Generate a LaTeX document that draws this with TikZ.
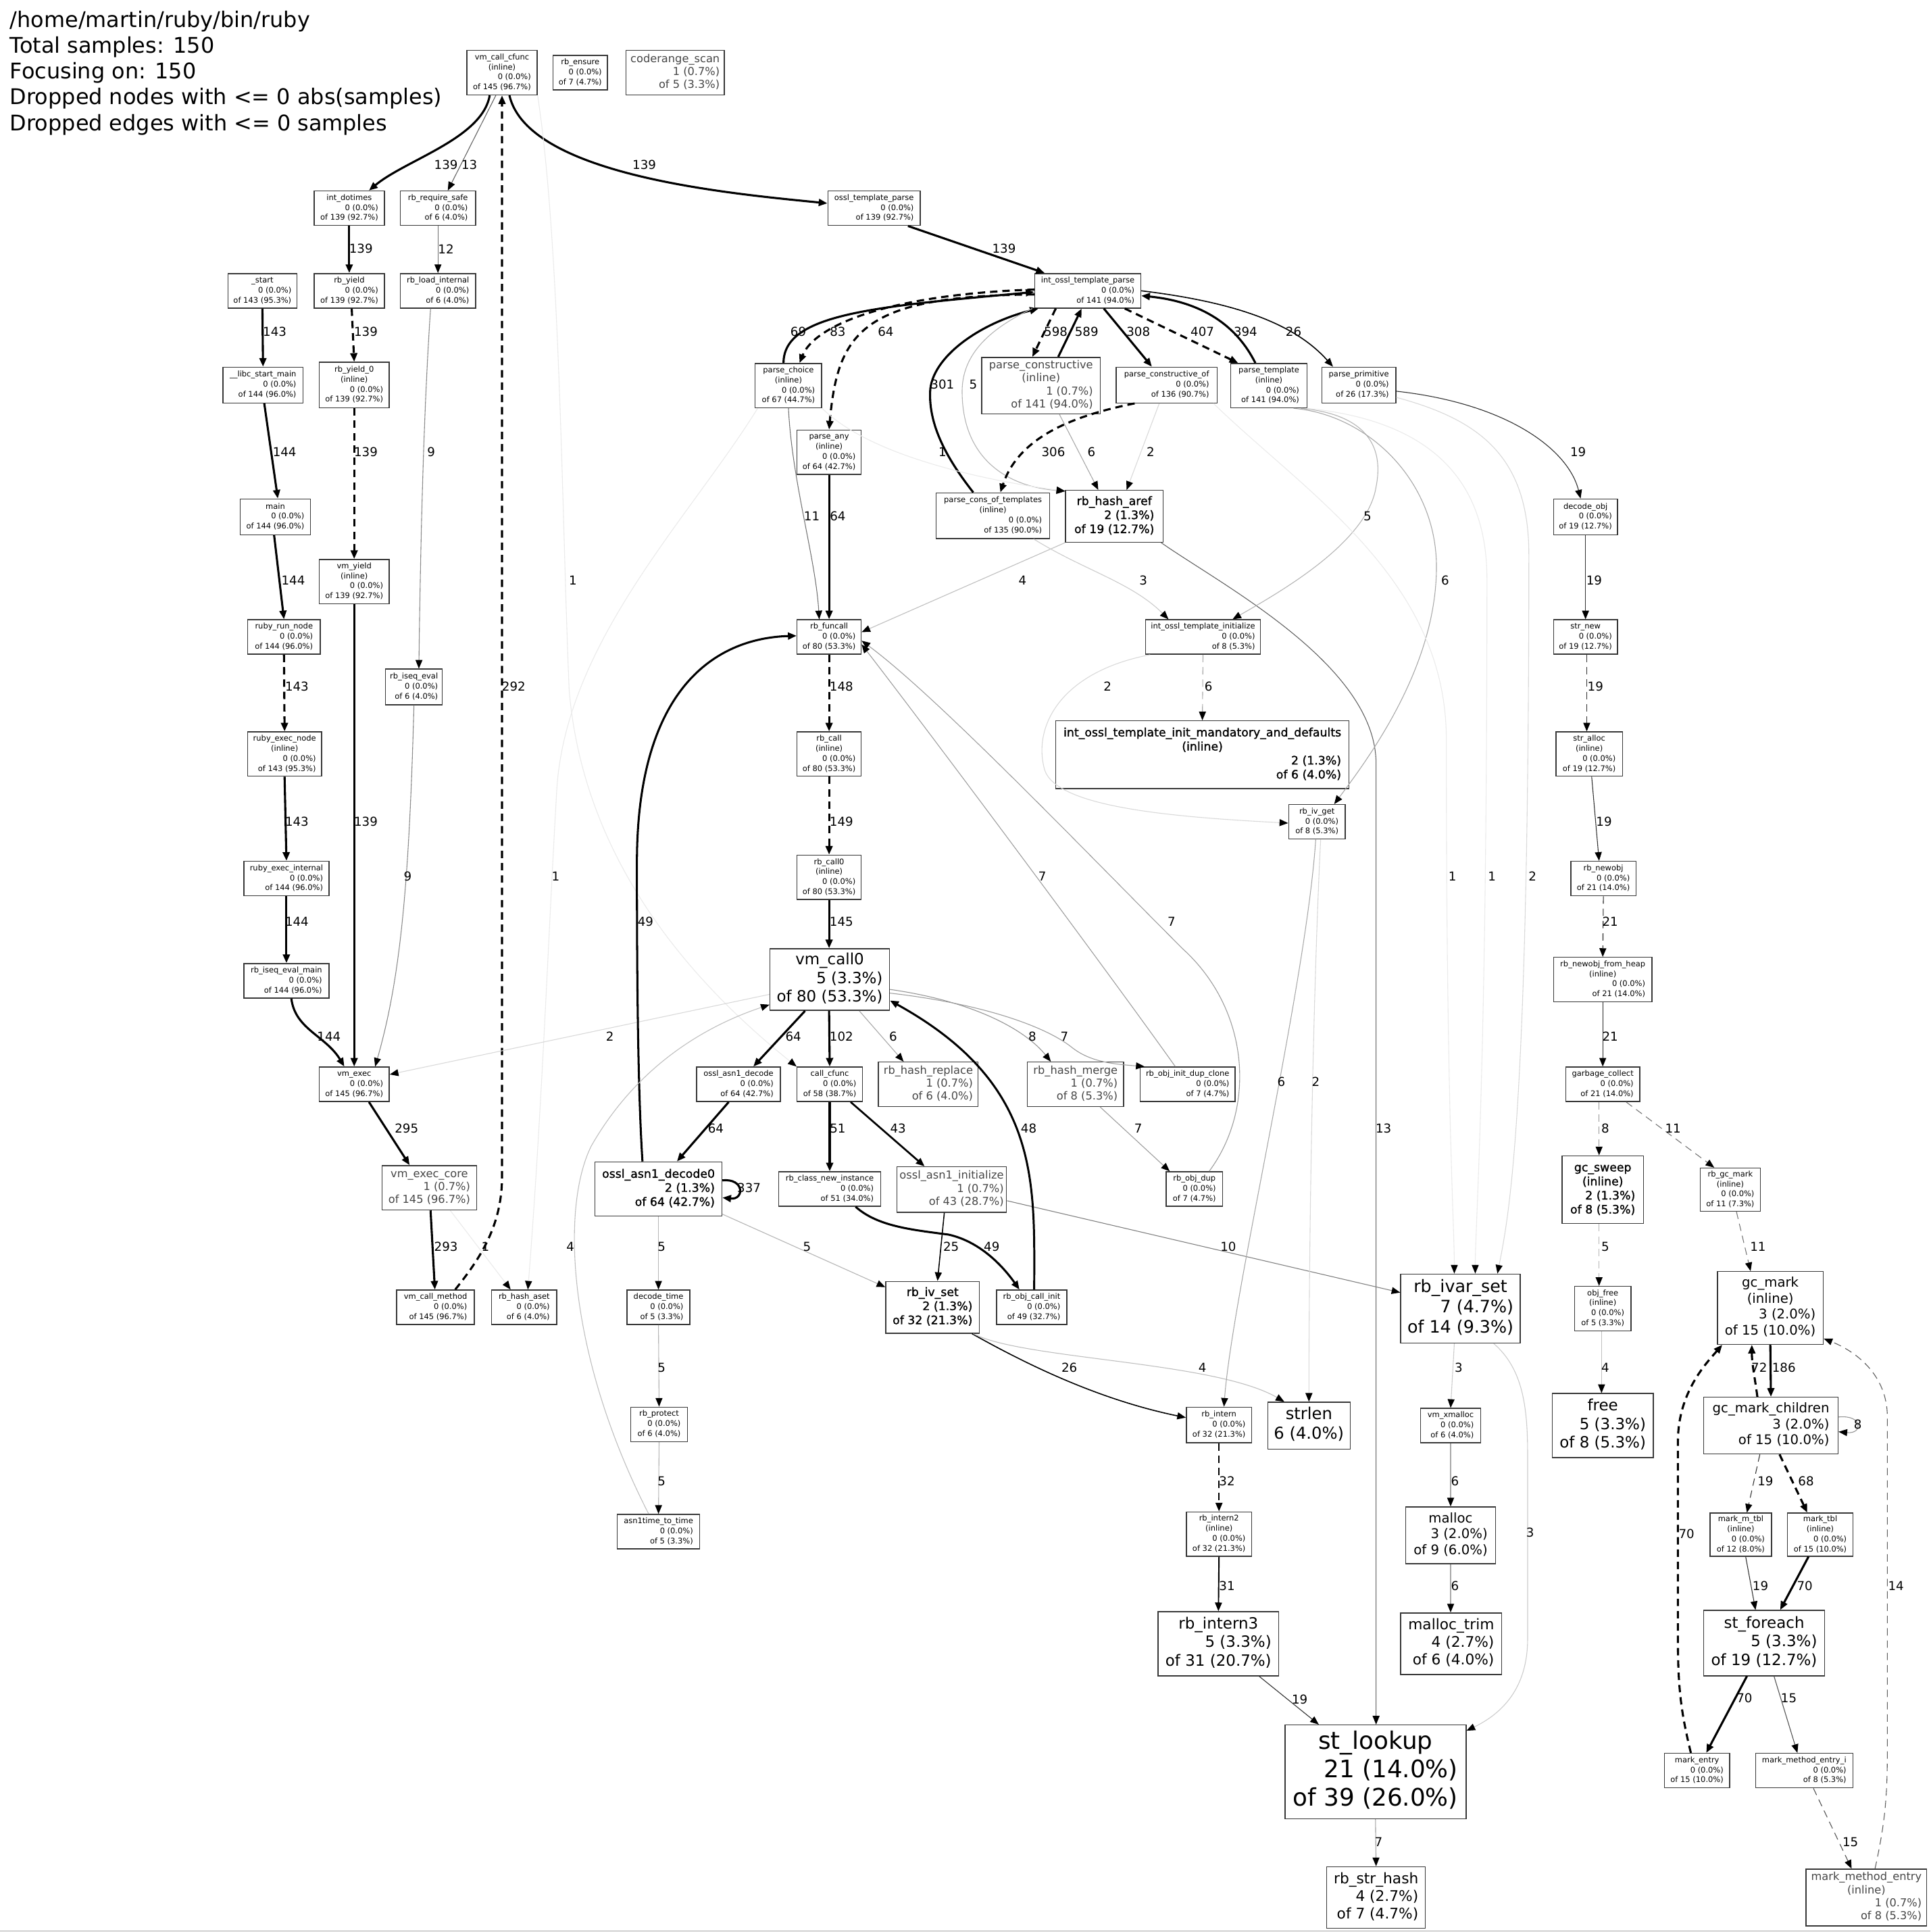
\documentclass[tikz,border=0pt]{standalone}
\usepackage{fontspec}
\setmainfont{DejaVu Sans}
\newfontfamily\heavy[FakeBold=1.2]{DejaVu Sans}
\usetikzlibrary{arrows.meta}
% one centred line (function name, "(inline)") inside a right-aligned block
\newcommand{\cl}[1]{\multicolumn{1}{@{}c@{}}{#1}\\}
\newcommand{\tb}[1]{\begin{tabular}{@{}r@{}}#1\end{tabular}}

\tikzset{
  pn/.style={draw=black!78, line width=0.8pt, rectangle, inner sep=0pt},
  box/.style 2 args={minimum width=#1pt, minimum height=#2pt},
  fa/.style={font=\fontsize{6.3}{8.1}\selectfont},
  fb/.style={font=\fontsize{8.9}{10.6}\selectfont, text=black!72},
  fc/.style={font=\heavy\fontsize{9.5}{11.4}\selectfont},
  fd/.style={font=\fontsize{10.8}{12.9}\selectfont},
  fe/.style={font=\fontsize{11.9}{14.2}\selectfont},
  ff/.style={font=\fontsize{12.6}{15}\selectfont},
  fg/.style={font=\fontsize{13.3}{15.8}\selectfont},
  fh/.style={font=\fontsize{13.9}{16.6}\selectfont},
  fi/.style={font=\fontsize{19.6}{23.3}\selectfont},
  lab/.style={font=\fontsize{10}{12}\selectfont, inner sep=0pt},
  ttl/.style={font=\fontsize{17.5}{21}\selectfont, inner sep=0pt, anchor=base west},
  % edge width and grey level follow the sample count
  wt/.code={%
    \pgfmathsetmacro\ew{min(2,0.04*#1)}%
    \pgfmathparse{\ew>0.999 ? 0.85*\ew : 0.6}\let\lw\pgfmathresult
    \pgfmathparse{\ew>0.999 ? 100 : 100*(\ew^0.75)}\pgfmathtruncatemacro\gl{\pgfmathresult}%
    \edef\tmp{\noexpand\pgfkeysalso{line width=\lw pt, draw=black!\gl}}\tmp},
  arr/.style={-{Triangle[length=7pt,width=5.6pt,color=black]}},
  ed/.style={wt=#1, arr},
  dsh/.style={dash pattern=on 6pt off 4pt},
}

\begin{document}
\begin{tikzpicture}[x=1pt,y=-1pt]
\useasboundingbox (0,0) rectangle (1567,1568);
\fill[white] (0,0) rectangle (1567,1568);
\draw[black!35, line width=0.7pt] (0,1567.3) -- (1567,1567.3);

% header
\node[ttl] (t1) at (8,22) {/home/martin/ruby/bin/ruby};
\node[ttl] (t2) at (8,43) {Total samples: 150};
\node[ttl] (t3) at (8,64) {Focusing on: 150};
\node[ttl] (t4) at (8,85) {Dropped nodes with <= 0 abs(samples)};
\node[ttl] (t5) at (8,106) {Dropped edges with <= 0 samples};

% functions
\node[pn,fa,box={57}{36}] (vmcf) at (407.5,59) {\tb{\cl{vm\_call\_cfunc}\cl{(inline)}0 (0.0\%)\\of 145 (96.7\%)}};
\node[pn,fa,box={44}{28}] (rbens) at (471,59) {\tb{\cl{rb\_ensure}0 (0.0\%)\\of 7 (4.7\%)}};
\node[pn,fb,box={80}{36}] (crscan) at (548,59) {\tb{\cl{coderange\_scan}1 (0.7\%)\\of 5 (3.3\%)}};
\node[pn,fa,box={57}{28}] (intdot) at (283.5,169) {\tb{\cl{int\_dotimes}0 (0.0\%)\\of 139 (92.7\%)}};
\node[pn,fa,box={61}{28}] (rbreq) at (355.5,169) {\tb{\cl{rb\_require\_safe}0 (0.0\%)\\of 6 (4.0\%)}};
\node[pn,fa,box={75}{28}] (otparse) at (709.5,169) {\tb{\cl{ossl\_template\_parse}0 (0.0\%)\\of 139 (92.7\%)}};
\node[pn,fa,box={56}{28}] (start) at (213,236) {\tb{\cl{\_start}0 (0.0\%)\\of 143 (95.3\%)}};
\node[pn,fa,box={57}{28}] (rbyield) at (283.5,236) {\tb{\cl{rb\_yield}0 (0.0\%)\\of 139 (92.7\%)}};
\node[pn,fa,box={61}{28}] (rbload) at (355.5,236) {\tb{\cl{rb\_load\_internal}0 (0.0\%)\\of 6 (4.0\%)}};
\node[pn,fa,box={86}{28}] (iotp) at (883,236) {\tb{\cl{int\_ossl\_template\_parse}0 (0.0\%)\\of 141 (94.0\%)}};
\node[pn,fa,box={65}{29}] (libc) at (213.5,312.5) {\tb{\cl{\_\_libc\_start\_main}0 (0.0\%)\\of 144 (96.0\%)}};
\node[pn,fa,box={57}{37}] (rbyieldz) at (287.5,312.5) {\tb{\cl{rb\_yield\_0}\cl{(inline)}0 (0.0\%)\\of 139 (92.7\%)}};
\node[pn,fa,box={54}{36}] (pchoice) at (640,313) {\tb{\cl{parse\_choice}\cl{(inline)}0 (0.0\%)\\of 67 (44.7\%)}};
\node[pn,fb,box={96}{46}] (pcons) at (845,313) {\tb{\cl{parse\_constructive}\cl{(inline)}1 (0.7\%)\\of 141 (94.0\%)}};
\node[pn,fa,box={82}{29}] (pconsof) at (947,312.5) {\tb{\cl{parse\_constructive\_of}0 (0.0\%)\\of 136 (90.7\%)}};
\node[pn,fa,box={62}{36}] (ptempl) at (1030,313) {\tb{\cl{parse\_template}\cl{(inline)}0 (0.0\%)\\of 141 (94.0\%)}};
\node[pn,fa,box={60}{29}] (pprim) at (1103,312.5) {\tb{\cl{parse\_primitive}0 (0.0\%)\\of 26 (17.3\%)}};
\node[pn,fa,box={52}{36}] (pany) at (673,367) {\tb{\cl{parse\_any}\cl{(inline)}0 (0.0\%)\\of 64 (42.7\%)}};
\node[pn,fa,box={57}{29}] (main) at (223.5,419.5) {\tb{\cl{main}0 (0.0\%)\\of 144 (96.0\%)}};
\node[pn,fa,box={92}{37}] (pcot) at (806,418.5) {\tb{\cl{parse\_cons\_of\_templates}\cl{(inline)}0 (0.0\%)\\of 135 (90.0\%)}};
\node[pn,fc,box={79}{42}] (hasharef) at (904.5,419) {\tb{\cl{rb\_hash\_aref}2 (1.3\%)\\of 19 (12.7\%)}};
\node[pn,fa,box={52}{29}] (decobj) at (1287,419.5) {\tb{\cl{decode\_obj}0 (0.0\%)\\of 19 (12.7\%)}};
\node[pn,fa,box={57}{36}] (vmyield) at (287.5,472) {\tb{\cl{vm\_yield}\cl{(inline)}0 (0.0\%)\\of 139 (92.7\%)}};
\node[pn,fa,box={59}{28}] (runnode) at (230.5,517) {\tb{\cl{ruby\_run\_node}0 (0.0\%)\\of 144 (96.0\%)}};
\node[pn,fa,box={52}{28}] (funcall) at (673,517) {\tb{\cl{rb\_funcall}0 (0.0\%)\\of 80 (53.3\%)}};
\node[pn,fa,box={93}{28}] (iotinit) at (976.5,517) {\tb{\cl{int\_ossl\_template\_initialize}0 (0.0\%)\\of 8 (5.3\%)}};
\node[pn,fa,box={52}{28}] (strnew) at (1287,517) {\tb{\cl{str\_new}0 (0.0\%)\\of 19 (12.7\%)}};
\node[pn,fa,box={46}{29}] (iseqeval) at (336,557.5) {\tb{\cl{rb\_iseq\_eval}0 (0.0\%)\\of 6 (4.0\%)}};
\node[pn,fc,box={238}{55}] (mandat) at (976,612.5) {\tb{\cl{int\_ossl\_template\_init\_mandatory\_and\_defaults}\cl{(inline)}2 (1.3\%)\\of 6 (4.0\%)}};
\node[pn,fa,box={60}{36}] (execnode) at (231,612) {\tb{\cl{ruby\_exec\_node}\cl{(inline)}0 (0.0\%)\\of 143 (95.3\%)}};
\node[pn,fa,box={52}{36}] (rbcall) at (673,612) {\tb{\cl{rb\_call}\cl{(inline)}0 (0.0\%)\\of 80 (53.3\%)}};
\node[pn,fa,box={54}{36}] (stralloc) at (1290,612) {\tb{\cl{str\_alloc}\cl{(inline)}0 (0.0\%)\\of 19 (12.7\%)}};
\node[pn,fa,box={46}{28}] (ivget) at (1069,667) {\tb{\cl{rb\_iv\_get}0 (0.0\%)\\of 8 (5.3\%)}};
\node[pn,fa,box={52}{36}] (rbcallz) at (673,712) {\tb{\cl{rb\_call0}\cl{(inline)}0 (0.0\%)\\of 80 (53.3\%)}};
\node[pn,fa,box={69}{28}] (execint) at (232.5,713) {\tb{\cl{ruby\_exec\_internal}0 (0.0\%)\\of 144 (96.0\%)}};
\node[pn,fa,box={53}{28}] (newobj) at (1301.5,713) {\tb{\cl{rb\_newobj}0 (0.0\%)\\of 21 (14.0\%)}};
\node[pn,ff,box={97}{50}] (vmcallz) at (673.5,795) {\tb{\cl{vm\_call0}5 (3.3\%)\\of 80 (53.3\%)}};
\node[pn,fa,box={69}{28}] (iseqmain) at (232.5,796) {\tb{\cl{rb\_iseq\_eval\_main}0 (0.0\%)\\of 144 (96.0\%)}};
\node[pn,fa,box={80}{36}] (newheap) at (1301,795) {\tb{\cl{rb\_newobj\_from\_heap}\cl{(inline)}0 (0.0\%)\\of 21 (14.0\%)}};
\node[pn,fa,box={57}{28}] (vmexec) at (287.5,880) {\tb{\cl{vm\_exec}0 (0.0\%)\\of 145 (96.7\%)}};
\node[pn,fa,box={68}{28}] (adecode) at (599.5,880) {\tb{\cl{ossl\_asn1\_decode}0 (0.0\%)\\of 64 (42.7\%)}};
\node[pn,fa,box={53}{28}] (callcf) at (673.5,880) {\tb{\cl{call\_cfunc}0 (0.0\%)\\of 58 (38.7\%)}};
\node[pn,fb,box={81}{36}] (hrepl) at (753.5,880) {\tb{\cl{rb\_hash\_replace}1 (0.7\%)\\of 6 (4.0\%)}};
\node[pn,fb,box={78}{36}] (hmerge) at (873,880) {\tb{\cl{rb\_hash\_merge}1 (0.7\%)\\of 8 (5.3\%)}};
\node[pn,fa,box={77}{28}] (dupclone) at (964,880) {\tb{\cl{rb\_obj\_init\_dup\_clone}0 (0.0\%)\\of 7 (4.7\%)}};
\node[pn,fa,box={60}{28}] (gcoll) at (1301,880) {\tb{\cl{garbage\_collect}0 (0.0\%)\\of 21 (14.0\%)}};
\node[pn,fc,box={103}{44}] (adecodez) at (534.5,965) {\tb{\cl{ossl\_asn1\_decode0}2 (1.3\%)\\of 64 (42.7\%)}};
\node[pn,fa,box={83}{28}] (clsnew) at (673.5,965) {\tb{\cl{rb\_class\_new\_instance}0 (0.0\%)\\of 51 (34.0\%)}};
\node[pn,fb,box={89}{37}] (ainit) at (772.5,965.5) {\tb{\cl{ossl\_asn1\_initialize}1 (0.7\%)\\of 43 (28.7\%)}};
\node[pn,fa,box={46}{28}] (objdup) at (969.5,965) {\tb{\cl{rb\_obj\_dup}0 (0.0\%)\\of 7 (4.7\%)}};
\node[pn,fb,box={77}{36}] (execcore) at (348.5,964) {\tb{\cl{vm\_exec\_core}1 (0.7\%)\\of 145 (96.7\%)}};
\node[pn,fc,box={66}{55}] (gcsweep) at (1301,965.5) {\tb{\cl{gc\_sweep}\cl{(inline)}2 (1.3\%)\\of 8 (5.3\%)}};
\node[pn,fa,box={49}{35}] (gcmarkrb) at (1404.5,965.5) {\tb{\cl{rb\_gc\_mark}\cl{(inline)}0 (0.0\%)\\of 11 (7.3\%)}};
\node[pn,fc,box={76}{42}] (ivset) at (757,1061) {\tb{\cl{rb\_iv\_set}2 (1.3\%)\\of 32 (21.3\%)}};
\node[pn,fh,box={97}{56}] (ivarset) at (1185.5,1062) {\tb{\cl{rb\_ivar\_set}7 (4.7\%)\\of 14 (9.3\%)}};
\node[pn,fd,box={86}{59}] (gcmark) at (1437,1061.5) {\tb{\cl{gc\_mark}\cl{(inline)}3 (2.0\%)\\of 15 (10.0\%)}};
\node[pn,fa,box={63}{28}] (callmeth) at (353.5,1061) {\tb{\cl{vm\_call\_method}0 (0.0\%)\\of 145 (96.7\%)}};
\node[pn,fa,box={53}{28}] (hashaset) at (425.5,1061) {\tb{\cl{rb\_hash\_aset}0 (0.0\%)\\of 6 (4.0\%)}};
\node[pn,fa,box={51}{28}] (dtime) at (534.5,1061) {\tb{\cl{decode\_time}0 (0.0\%)\\of 5 (3.3\%)}};
\node[pn,fa,box={57}{28}] (callinit) at (837.5,1061) {\tb{\cl{rb\_obj\_call\_init}0 (0.0\%)\\of 49 (32.7\%)}};
\node[pn,fa,box={46}{36}] (objfree) at (1301,1062) {\tb{\cl{obj\_free}\cl{(inline)}0 (0.0\%)\\of 5 (3.3\%)}};
\node[pn,fa,box={53}{29}] (intern) at (989.5,1156.5) {\tb{\cl{rb\_intern}0 (0.0\%)\\of 32 (21.3\%)}};
\node[pn,fg,box={67}{38}] (strlen) at (1062.5,1157) {\tb{\cl{strlen}6 (4.0\%)}};
\node[pn,fa,box={46}{28}] (protect) at (535,1156) {\tb{\cl{rb\_protect}0 (0.0\%)\\of 6 (4.0\%)}};
\node[pn,fa,box={49}{28}] (xmalloc) at (1177.5,1157) {\tb{\cl{vm\_xmalloc}0 (0.0\%)\\of 6 (4.0\%)}};
\node[pn,ff,box={82}{52}] (free) at (1301,1157) {\tb{\cl{free}5 (3.3\%)\\of 8 (5.3\%)}};
\node[pn,fd,box={109}{46}] (gcmc) at (1437.5,1157) {\tb{\cl{gc\_mark\_children}3 (2.0\%)\\of 15 (10.0\%)}};
\node[pn,fa,box={67}{28}] (atime) at (534.5,1243) {\tb{\cl{asn1time\_to\_time}0 (0.0\%)\\of 5 (3.3\%)}};
\node[pn,fa,box={53}{36}] (internz) at (989.5,1245) {\tb{\cl{rb\_intern2}\cl{(inline)}0 (0.0\%)\\of 32 (21.3\%)}};
\node[pn,fd,box={73}{46}] (malloc) at (1177.5,1246) {\tb{\cl{malloc}3 (2.0\%)\\of 9 (6.0\%)}};
\node[pn,fa,box={50}{35}] (mmtbl) at (1413,1245.5) {\tb{\cl{mark\_m\_tbl}\cl{(inline)}0 (0.0\%)\\of 12 (8.0\%)}};
\node[pn,fa,box={53}{35}] (mtbl) at (1477.5,1245.5) {\tb{\cl{mark\_tbl}\cl{(inline)}0 (0.0\%)\\of 15 (10.0\%)}};
\node[pn,ff,box={98}{52}] (intern3) at (989,1334) {\tb{\cl{rb\_intern3}5 (3.3\%)\\of 31 (20.7\%)}};
\node[pn,fe,box={82}{50}] (mtrim) at (1178,1334) {\tb{\cl{malloc\_trim}4 (2.7\%)\\of 6 (4.0\%)}};
\node[pn,ff,box={98}{53}] (stfor) at (1432,1333.5) {\tb{\cl{st\_foreach}5 (3.3\%)\\of 19 (12.7\%)}};
\node[pn,fi,box={147}{76}] (stlookup) at (1116.5,1438) {\tb{\cl{st\_lookup}21 (14.0\%)\\of 39 (26.0\%)}};
\node[pn,fa,box={53}{28}] (mentry) at (1377.5,1437) {\tb{\cl{mark\_entry}0 (0.0\%)\\of 15 (10.0\%)}};
\node[pn,fa,box={79}{28}] (mmei) at (1464.5,1437) {\tb{\cl{mark\_method\_entry\_i}0 (0.0\%)\\of 8 (5.3\%)}};
\node[pn,fe,box={80}{50}] (strhash) at (1117,1540) {\tb{\cl{rb\_str\_hash}4 (2.7\%)\\of 7 (4.7\%)}};
\node[pn,fb,box={98}{46}] (mme) at (1515,1540) {\tb{\cl{mark\_method\_entry}\cl{(inline)}1 (0.7\%)\\of 8 (5.3\%)}};

% calls: interpreter side
\draw[ed=139] ([xshift=-10pt]vmcf.south) .. controls +(-6,35) and +(30,-25) .. ([xshift=16pt]intdot.north);
\draw[ed=13] ([xshift=-5pt]vmcf.south) -- ([xshift=8pt]rbreq.north);
\draw[ed=139] ([xshift=6pt]vmcf.south) .. controls +(15,65) and +(-80,-8) .. ([yshift=4pt]otparse.west);
\draw[ed=292,dsh] ([xshift=16pt]callmeth.north) .. controls +(20,-25) and +(0,40) .. (407.5,955) -- (vmcf.south);
\draw[ed=293] ([xshift=1pt]execcore.south) -- ([xshift=-0.5pt]callmeth.north);
\draw[ed=1] ([xshift=17pt]execcore.south) -- ([xshift=-11pt]hashaset.north);
\draw[ed=1] ([xshift=-25pt]pchoice.south) .. controls (560,420) and (460,520) .. (452,640) .. controls (445,760) and (440,900) .. ([xshift=3pt]hashaset.north);
\draw[ed=1] (vmcf.south east) .. controls (455,200) and (456,420) .. (462,560) .. controls (472,680) and (540,780) .. (callcf.north west);
\draw[ed=139] (intdot.south) -- (rbyield.north);
\draw[ed=12] (rbreq.south) -- (rbload.north);
\draw[ed=143] (start.south) -- (libc.north);
\draw[ed=139,dsh] ([xshift=2pt]rbyield.south) -- (rbyieldz.north);
\draw[ed=144] ([xshift=1pt]libc.south) -- ([xshift=2pt]main.north);
\draw[ed=139,dsh] (rbyieldz.south) -- (vmyield.north);
\draw[ed=144] ([xshift=-1pt]main.south) -- (runnode.north);
\draw[ed=9] ([xshift=-6pt]rbload.south) .. controls +(-4,60) and +(2,-150) .. ([xshift=4pt]iseqeval.north);
\draw[ed=139] (vmyield.south) -- (vmexec.north);
\draw[ed=143,dsh] (runnode.south) -- (execnode.north);
\draw[ed=9] (iseqeval.south) .. controls +(-4,150) and +(20,-70) .. ([xshift=17pt]vmexec.north);
\draw[ed=143] (execnode.south) -- (execint.north);
\draw[ed=144] (execint.south) -- (iseqmain.north);
\draw[ed=144] ([xshift=4pt]iseqmain.south) .. controls +(3,25) and +(-15,-25) .. ([xshift=-8pt]vmexec.north);
\draw[ed=2] ([yshift=-12pt]vmcallz.west) -- ([yshift=8pt]vmexec.east);
\draw[ed=295] ([xshift=12pt]vmexec.south) -- ([xshift=-16pt]execcore.north);

% calls: template parsing
\draw[ed=139] ([xshift=27.5pt]otparse.south) -- ([xshift=-35pt]iotp.north);
\draw[ed=69] ([xshift=-4pt]pchoice.north) .. controls +(0,-40) and +(-130,12) .. ([yshift=-1pt]iotp.west);
\draw[ed=83,dsh] ([yshift=1pt]iotp.west) .. controls +(-120,4) and +(12,-30) .. ([xshift=9pt]pchoice.north);
\draw[ed=64,dsh] ([yshift=-3pt]iotp.west) .. controls +(-140,1) and +(7,-79) .. (pany.north);
\draw[ed=301] ([xshift=-16pt]pcot.north) .. controls +(-22,-28) and +(-1,27) .. (755,318) .. controls +(1,-28) and +(-48,12) .. ([xshift=-40pt]iotp.south);
\draw[ed=5] ([xshift=-45pt]iotp.south) .. controls +(-38,18) and +(-1,-30) .. (781,320) .. controls +(1,50) and +(-50,-4) .. ([yshift=-1pt]hasharef.north west);
\draw[ed=598,dsh] ([xshift=-26pt]iotp.south) -- ([xshift=-7pt]pcons.north);
\draw[ed=589] ([xshift=14pt]pcons.north) -- ([xshift=-5pt]iotp.south);
\draw[ed=308] ([xshift=13pt]iotp.south) -- ([xshift=-12pt]pconsof.north);
\draw[ed=407,dsh] ([xshift=30pt]iotp.south) -- ([xshift=-25pt]ptempl.north);
\draw[ed=394] ([xshift=-11pt]ptempl.north) .. controls +(-15,-30) and +(50,5) .. ([yshift=-4pt]iotp.east);
\draw[ed=26] (iotp.east) .. controls +(74,9) and +(-32,-36) .. ([xshift=-21pt]pprim.north);
\draw[ed=64] (pany.south) -- (funcall.north);
\draw[ed=11] (pchoice.south) .. controls +(3,60) and +(-3,-50) .. ([xshift=-8pt]funcall.north);
\draw[ed=1] (pchoice.south east) .. controls +(40,40) and +(-60,-8) .. ([yshift=-1pt]hasharef.north west);
\draw[ed=306,dsh] ([xshift=-26pt]pconsof.south) .. controls +(-50,10) and +(15,-45) .. ([xshift=6pt]pcot.north);
\draw[ed=6] ([xshift=15pt]pcons.south) -- ([xshift=-13pt]hasharef.north);
\draw[ed=2] ([xshift=-6pt]pconsof.south) -- ([xshift=10pt]hasharef.north);
\draw[ed=4] (hasharef.south west) -- ([yshift=4pt]funcall.east);
\draw[ed=13] ([xshift=38pt]hasharef.south) .. controls +(50,35) and +(0,-80) .. (1117,620) -- ([xshift=0.5pt]stlookup.north);
\draw[ed=5] ([xshift=26pt]ptempl.south) .. controls +(44,4) and +(8,-40) .. (1117,395) .. controls +(-7,45) and +(40,-23) .. ([xshift=24pt]iotinit.north);
\draw[ed=6] ([xshift=20pt]ptempl.south) .. controls +(60,5) and +(0,-70) .. (1166,460) .. controls +(0,80) and +(30,-40) .. ([xshift=14pt]ivget.north);
\draw[ed=3] ([xshift=33pt]pcot.south) .. controls +(40,25) and +(-30,-30) .. ([xshift=-28pt]iotinit.north);
\draw[ed=2] ([xshift=-43pt]iotinit.south) .. controls +(-73,14) and +(-10,-35) .. (848,625) .. controls +(10,30) and +(-96,-5) .. ([yshift=-1pt]ivget.west);
\draw[ed=6,dsh] (iotinit.south) -- (mandat.north);
\draw[ed=19] ([yshift=-5pt]pprim.east) .. controls +(90,10) and +(-10,-40) .. ([xshift=-4pt]decobj.north);
\draw[ed=1] ([xshift=38pt]pconsof.south) .. controls +(75,73) and +(0,-130) .. (1174,600) .. controls +(0,300) and +(0,-40) .. ([xshift=-5pt]ivarset.north);
\draw[ed=1] ([xshift=31pt]ptempl.south) .. controls +(89,9) and +(0,-90) .. (1207,470) .. controls +(0,400) and +(0,-40) .. ([xshift=12pt]ivarset.north);
\draw[ed=2] ([yshift=-10pt]pprim.east) .. controls +(67,18) and +(0,-80) .. (1241,450) .. controls +(0,450) and +(10,-50) .. ([xshift=30pt]ivarset.north);

% calls: object allocation and garbage collection
\draw[ed=19] (decobj.south) -- (strnew.north);
\draw[ed=19,dsh] ([xshift=1pt]strnew.south) -- ([xshift=-2pt]stralloc.north);
\draw[ed=19] ([xshift=2pt]stralloc.south) -- ([xshift=-3.5pt]newobj.north);
\draw[ed=21,dsh] (newobj.south) -- (newheap.north);
\draw[ed=21] (newheap.south) -- (gcoll.north);
\draw[ed=8,dsh] ([xshift=-3pt]gcoll.south) -- ([xshift=-3pt]gcsweep.north);
\draw[ed=11,dsh] ([xshift=19pt]gcoll.south) -- ([xshift=-13pt]gcmarkrb.north);
\draw[ed=5,dsh] ([xshift=-3pt]gcsweep.south) -- ([xshift=-3pt]objfree.north);
\draw[ed=4] ([xshift=-1pt]objfree.south) -- ([xshift=-1pt]free.north);
\draw[ed=11,dsh] ([xshift=5pt]gcmarkrb.south) -- ([xshift=-16pt]gcmark.north);
\draw[ed=186] (gcmark.south) -- (gcmc.north);
\draw[ed=72,dsh] ([xshift=-11pt]gcmc.north) .. controls +(-2,-15) and +(0,15) .. ([xshift=-15pt]gcmark.south);
\draw[ed=8] ([yshift=7pt]gcmc.east) .. controls +(20,-2) and +(20,2) .. ([yshift=-5pt]gcmc.east);
\draw[ed=19,dsh] ([xshift=-9pt]gcmc.south) -- ([xshift=5pt]mmtbl.north);
\draw[ed=68,dsh] ([xshift=7pt]gcmc.south) -- ([xshift=-10.5pt]mtbl.north);
\draw[ed=19] ([xshift=4pt]mmtbl.south) -- ([xshift=-7pt]stfor.north);
\draw[ed=70] ([xshift=-9.5pt]mtbl.south) -- ([xshift=13pt]stfor.north);
\draw[ed=70] ([xshift=-14pt]stfor.south) -- ([xshift=7.5pt]mentry.north);
\draw[ed=15] ([xshift=8pt]stfor.south) -- ([xshift=-5.5pt]mmei.north);
\draw[ed=70,dsh] ([xshift=-5pt]mentry.north) .. controls +(-8,-33) and +(0,40) .. (1362,1330) -- (1362,1170) .. controls +(0,-40) and +(-13,15) .. ([xshift=-39pt]gcmark.south);
\draw[ed=15,dsh] ([xshift=7.5pt]mmei.south) -- ([xshift=-12pt]mme.north);
\draw[ed=14,dsh] ([xshift=7pt]mme.north) .. controls +(8,-37) and +(0,40) .. (1532,1420) -- (1532,1150) .. controls +(0,-35) and +(25,10) .. ([yshift=5pt]gcmark.south east);

% calls: method dispatch and ASN.1 decoding
\draw[ed=148,dsh] (funcall.south) -- (rbcall.north);
\draw[ed=149,dsh] (rbcall.south) -- (rbcallz.north);
\draw[ed=145] (rbcallz.south) -- ([xshift=-0.5pt]vmcallz.north);
\draw[ed=64] ([xshift=-20pt]vmcallz.south) -- ([xshift=12pt]adecode.north);
\draw[ed=102] ([xshift=-0.5pt]vmcallz.south) -- (callcf.north);
\draw[ed=6] ([xshift=24pt]vmcallz.south) -- ([xshift=-20pt]hrepl.north);
\draw[ed=8] ([yshift=-8pt]vmcallz.east) .. controls +(70,10) and +(-20,-25) .. ([xshift=-20pt]hmerge.north);
\draw[ed=7] ([yshift=-11pt]vmcallz.east) .. controls +(78,9) and +(-20,-16) .. (870,850) .. controls +(15,12) and +(-25,-2) .. ([xshift=4pt]dupclone.north west);
\draw[ed=64] ([xshift=-8pt]adecode.south) -- ([xshift=15pt]adecodez.north);
\draw[ed=49] ([xshift=-13pt]adecodez.north) .. controls +(-4,-62) and +(0,80) .. (517,700) .. controls +(0,-140) and +(-67,2) .. ([yshift=1pt]funcall.west);
\draw[ed=337] ([yshift=7pt]adecodez.east) .. controls +(18,-2) and +(18,2) .. ([yshift=-7pt]adecodez.east);
\draw[ed=5] (adecodez.south) -- (dtime.north);
\draw[ed=5] ([yshift=2pt]adecodez.south east) -- ([yshift=-5pt]ivset.north west);
\draw[ed=51] (callcf.south) -- (clsnew.north);
\draw[ed=43] ([xshift=17pt]callcf.south) -- ([xshift=-22pt]ainit.north);
\draw[ed=49] ([xshift=21pt]clsnew.south) .. controls +(18,16) and +(-30,-4) .. (770,1002) .. controls +(27,6) and +(-12,-17) .. ([xshift=-10pt]callinit.north);
\draw[ed=25] ([xshift=-6pt]ainit.south) -- ([xshift=4pt]ivset.north);
\draw[ed=10] ([yshift=-9pt]ainit.east) -- ([yshift=13pt]ivarset.west);
\draw[ed=48] ([xshift=2pt]callinit.north) .. controls +(0,-87) and +(123,68) .. ([yshift=-17pt]vmcallz.east);
\draw[ed=7] ([xshift=20pt]hmerge.south) -- ([xshift=-20pt]objdup.north);
\draw[ed=7] ([xshift=12pt]objdup.north) .. controls +(38,-51) and +(55,50) .. (960,770) .. controls +(-80,-80) and +(61,45) .. ([yshift=-3pt]funcall.east);
\draw[ed=7] ([xshift=-10pt]dupclone.north) .. controls +(-54,-76) and +(61,79) .. ([yshift=-6pt]funcall.east);
\draw[ed=26] ([xshift=32pt]ivset.south) .. controls +(41,23) and +(-73,-15) .. ([yshift=6pt]intern.west);
\draw[ed=4] ([xshift=33pt]ivset.south) .. controls +(40,21) and +(-57,-33) .. ([xshift=-20pt]strlen.north);
\draw[ed=6] ([xshift=-1pt]ivget.south) .. controls +(-8,119) and +(7,-92) .. ([xshift=4pt]intern.north);
\draw[ed=2] ([xshift=3pt]ivget.south) .. controls +(-6,119) and +(0,-138) .. (strlen.north);
\draw[ed=3] ([xshift=-5pt]ivarset.south) -- (xmalloc.north);
\draw[ed=6] (xmalloc.south) -- (malloc.north);
\draw[ed=6] (malloc.south) -- ([xshift=-0.5pt]mtrim.north);
\draw[ed=3] ([xshift=27pt]ivarset.south) .. controls +(23,20) and +(0,-40) .. (1240,1180) -- (1240,1330) .. controls +(0,40) and +(29,-14) .. ([yshift=-5pt]stlookup.north east);
\draw[ed=32,dsh] (intern.south) -- (internz.north);
\draw[ed=31] (internz.south) -- (intern3.north);
\draw[ed=19] ([xshift=33pt]intern3.south) -- ([xshift=-46pt]stlookup.north);
\draw[ed=7] (stlookup.south) -- (strhash.north);
\draw[ed=4] ([xshift=-8pt]atime.north) .. controls +(-66,-129) and +(-25,50) .. (480,930) .. controls +(40,-70) and +(-45,15) .. ([yshift=5pt]vmcallz.south west);
\draw[ed=5] (dtime.south) -- (protect.north);
\draw[ed=5] (protect.south) -- (atime.north);

% sample counts on the calls
\node[lab] (l1) at (362,134) {139};
\node[lab] (l2) at (381,134) {13};
\node[lab] (l3) at (523,134) {139};
\node[lab] (l4) at (293,202) {139};
\node[lab] (l5) at (362,202) {12};
\node[lab] (l6) at (815,202) {139};
\node[lab] (l7) at (223,269) {143};
\node[lab] (l8) at (297,269) {139};
\node[lab] (l9) at (648,269) {69};
\node[lab] (l10) at (680,269) {83};
\node[lab] (l11) at (719,269) {64};
\node[lab] (l12) at (857,269) {598};
\node[lab] (l13) at (882,269) {589};
\node[lab] (l14) at (924,269) {308};
\node[lab] (l15) at (976,269) {407};
\node[lab] (l16) at (1011,269) {394};
\node[lab] (l17) at (1050,269) {26};
\node[lab] (l18) at (765,312) {301};
\node[lab] (l19) at (790,312) {5};
\node[lab] (l20) at (231,367) {144};
\node[lab] (l21) at (297,367) {139};
\node[lab] (l22) at (350,367) {9};
\node[lab] (l23) at (765,367) {1};
\node[lab] (l24) at (855,367) {306};
\node[lab] (l25) at (886,367) {6};
\node[lab] (l26) at (934,367) {2};
\node[lab] (l27) at (1281,367) {19};
\node[lab] (l28) at (659,419) {11};
\node[lab] (l29) at (680,419) {64};
\node[lab] (l30) at (1110,419) {5};
\node[lab] (l31) at (238,471) {144};
\node[lab] (l32) at (465,471) {1};
\node[lab] (l33) at (830,471) {4};
\node[lab] (l34) at (928,471) {3};
\node[lab] (l35) at (1173,471) {6};
\node[lab] (l36) at (1294,471) {19};
\node[lab] (l37) at (241,557) {143};
\node[lab] (l38) at (417,557) {292};
\node[lab] (l39) at (683,557) {148};
\node[lab] (l40) at (899,557) {2};
\node[lab] (l41) at (981,557) {6};
\node[lab] (l42) at (1295,557) {19};
\node[lab] (l43) at (241,667) {143};
\node[lab] (l44) at (297,667) {139};
\node[lab] (l45) at (683,667) {149};
\node[lab] (l46) at (1302,667) {19};
\node[lab] (l47) at (451,711) {1};
\node[lab] (l48) at (331,711) {9};
\node[lab] (l49) at (846,711) {7};
\node[lab] (l50) at (1179,711) {1};
\node[lab] (l51) at (1211,711) {1};
\node[lab] (l52) at (1244,711) {2};
\node[lab] (l53) at (241,748) {144};
\node[lab] (l54) at (524,748) {49};
\node[lab] (l55) at (683,748) {145};
\node[lab] (l56) at (951,748) {7};
\node[lab] (l57) at (1307,748) {21};
\node[lab] (l58) at (267,841) {144};
\node[lab] (l59) at (495,841) {2};
\node[lab] (l60) at (644,841) {64};
\node[lab] (l61) at (683,841) {102};
\node[lab] (l62) at (725,841) {6};
\node[lab] (l63) at (838,841) {8};
\node[lab] (l64) at (864,841) {7};
\node[lab] (l65) at (1307,841) {21};
\node[lab] (l66) at (1040,878) {6};
\node[lab] (l67) at (1068,878) {2};
\node[lab] (l68) at (330,916) {295};
\node[lab] (l69) at (581,916) {64};
\node[lab] (l70) at (680,916) {51};
\node[lab] (l71) at (729,916) {43};
\node[lab] (l72) at (835,916) {48};
\node[lab] (l73) at (924,916) {7};
\node[lab] (l74) at (1123,916) {13};
\node[lab] (l75) at (1303,916) {8};
\node[lab] (l76) at (1358,916) {11};
\node[lab] (l77) at (362,1012) {293};
\node[lab] (l78) at (394,1012) {1};
\node[lab] (l79) at (463,1012) {4};
\node[lab] (l80) at (537,1012) {5};
\node[lab] (l81) at (655,1012) {5};
\node[lab] (l82) at (772,1012) {25};
\node[lab] (l83) at (805,1012) {49};
\node[lab] (l84) at (997,1012) {10};
\node[lab] (l85) at (1303,1012) {5};
\node[lab] (l86) at (1427,1012) {11};
\node[lab] (l87) at (537,1110) {5};
\node[lab] (l88) at (868,1110) {26};
\node[lab] (l89) at (976,1110) {4};
\node[lab] (l90) at (1184,1110) {3};
\node[lab] (l91) at (1303,1110) {4};
\node[lab] (l92) at (1428,1110) {72};
\node[lab] (l93) at (1448,1110) {186};
\node[lab] (l94) at (608,964) {337};
\node[lab] (l95) at (1508,1156) {8};
\node[lab] (l96) at (537,1202) {5};
\node[lab] (l97) at (996,1202) {32};
\node[lab] (l98) at (1181,1202) {6};
\node[lab] (l99) at (1433,1202) {19};
\node[lab] (l100) at (1466,1202) {68};
\node[lab] (l101) at (1242,1244) {3};
\node[lab] (l102) at (1369,1245) {70};
\node[lab] (l103) at (996,1287) {31};
\node[lab] (l104) at (1181,1287) {6};
\node[lab] (l105) at (1429,1287) {19};
\node[lab] (l106) at (1465,1287) {70};
\node[lab] (l107) at (1539,1287) {14};
\node[lab] (l108) at (1055,1379) {19};
\node[lab] (l109) at (1416,1378) {70};
\node[lab] (l110) at (1452,1378) {15};
\node[lab] (l111) at (1119,1495) {7};
\node[lab] (l112) at (1502,1495) {15};
\end{tikzpicture}
\end{document}
